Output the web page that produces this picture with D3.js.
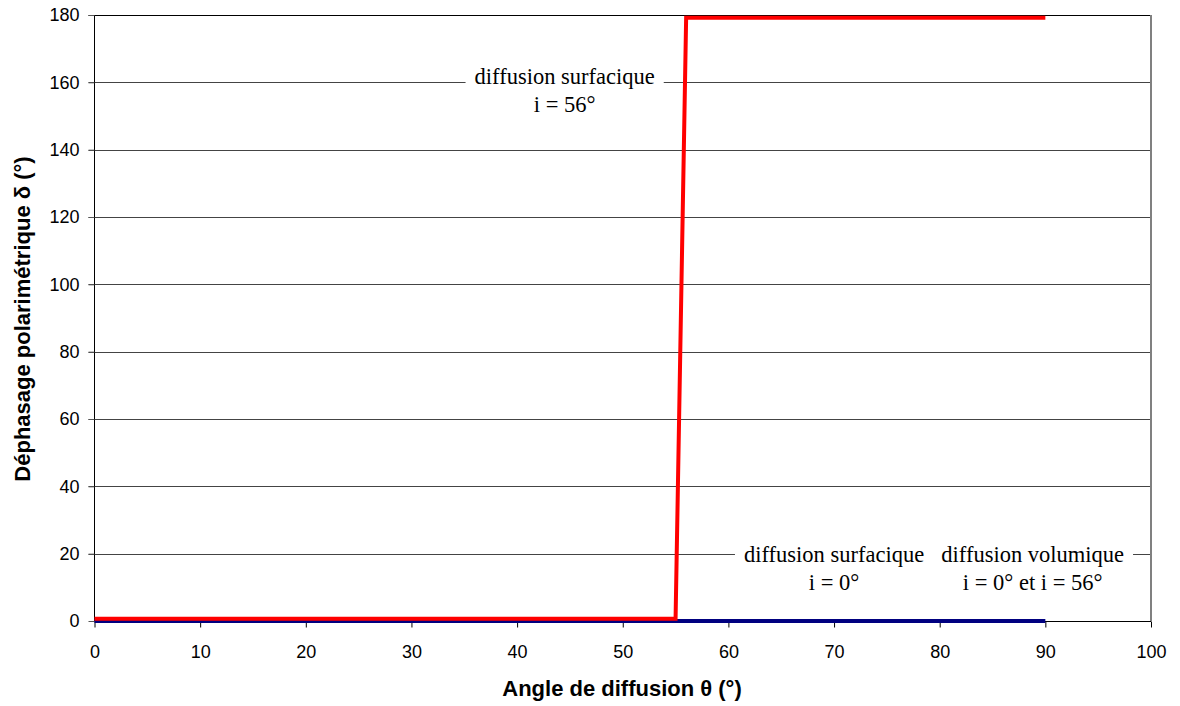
<!DOCTYPE html>
<html>
<head>
<meta charset="utf-8">
<script src="https://cdn.jsdelivr.net/npm/d3@7"></script>
<style>
  html, body { margin: 0; padding: 0; background: #fff; }
  svg { display: block; }
</style>
</head>
<body>
<svg id="chart" width="1180" height="706"></svg>
<script>
// ---- data ----
const xTicks = [0, 10, 20, 30, 40, 50, 60, 70, 80, 90, 100];
const yTicks = [0, 20, 40, 60, 80, 100, 120, 140, 160, 180];
const redX = [0, 55, 56, 90];          // diffusion surfacique i = 56°
const redY = [0.7, 0.7, 179.2, 179.2];
const blueX = [0, 55, 90];             // diffusion surfacique i = 0° / volumique
const blueY = [0, 0, 0];
const labelText = [
  ["diffusion surfacique", "i = 56°"],
  ["diffusion surfacique", "i = 0°"],
  ["diffusion volumique", "i = 0° et i = 56°"]
];
const labelX = [44.5, 70.0, 88.8];
const labelY = [159.5, 17.5, 17.5];
const xTitle = "Angle de diffusion θ (°)";
const yTitle = "Déphasage polarimétrique δ (°)";

// ---- layout ----
const svg = d3.select("#chart");
const L = 94.5, R = 1151, T = 15, B = 621;
const x = d3.scaleLinear().domain([0, 100]).range([L, R]);
const y = d3.scaleLinear().domain([0, 180]).range([B, T]);

// gridlines
svg.append("g").selectAll("line").data(yTicks.filter(d => d > 0)).join("line")
  .attr("x1", L - 6).attr("x2", R)
  .attr("y1", d => Math.round(y(d)) + 0.5).attr("y2", d => Math.round(y(d)) + 0.5)
  .attr("stroke", d => d === 180 ? "#000" : "#444").attr("stroke-width", 1);

// right border
svg.append("line").attr("x1", R).attr("x2", R).attr("y1", T).attr("y2", B)
  .attr("stroke", "#808080").attr("stroke-width", 2);

// axes
const xAxis = d3.axisBottom(x).tickValues(xTicks).tickSize(6).tickPadding(18);
const gx = svg.append("g").attr("transform", `translate(0,${B + 0.5})`).call(xAxis);
gx.select(".domain").attr("stroke", "#000").attr("d", `M${L},0H${R}`);
gx.selectAll(".tick line").attr("stroke", "#000");
gx.selectAll("text").attr("font-family", "Liberation Sans, Arial, sans-serif")
  .attr("font-size", 18).attr("fill", "#000");

const yAxis = d3.axisLeft(y).tickValues(yTicks).tickSize(6).tickPadding(9);
const gy = svg.append("g").attr("transform", `translate(${L},0)`).call(yAxis);
gy.select(".domain").attr("stroke", "#000").attr("d", `M0,${T}V${B}`);
gy.selectAll(".tick line").attr("stroke", "#555");
gy.selectAll("text").attr("font-family", "Liberation Sans, Arial, sans-serif")
  .attr("font-size", 18).attr("fill", "#000");

// labels with white boxes
const lab = svg.append("g");
labelText.forEach((lines, i) => {
  const g = lab.append("g").attr("transform", `translate(${x(labelX[i])},${y(labelY[i])})`);
  const rect = g.append("rect").attr("fill", "#fff");
  const t = g.append("text").attr("text-anchor", "middle")
    .attr("font-family", "Liberation Serif, Times New Roman, serif")
    .attr("font-size", 22.5).attr("fill", "#000");
  lines.forEach((s, k) => t.append("tspan").attr("x", 0).attr("y", k * 27.5).text(s));
  const bb = t.node().getBBox();
  rect.attr("x", bb.x - 9).attr("y", bb.y - 2).attr("width", bb.width + 18).attr("height", bb.height + 4);
});

// series lines
const line = d3.line().x(d => x(d[0])).y(d => y(d[1]));
svg.append("path").datum(blueX.map((v, i) => [v, blueY[i]]))
  .attr("d", line).attr("fill", "none").attr("stroke", "#000080").attr("stroke-width", 4);
svg.append("path").datum(redX.map((v, i) => [v, redY[i]]))
  .attr("d", line).attr("fill", "none").attr("stroke", "#ff0000").attr("stroke-width", 4);

// axis titles
svg.append("text").attr("x", 622).attr("y", 696).attr("text-anchor", "middle")
  .attr("font-family", "Liberation Sans, Arial, sans-serif").attr("font-weight", "bold")
  .attr("font-size", 22).text(xTitle);
svg.append("text").attr("transform", "translate(30,319) rotate(-90)").attr("text-anchor", "middle")
  .attr("font-family", "Liberation Sans, Arial, sans-serif").attr("font-weight", "bold")
  .attr("font-size", 22).text(yTitle);
</script>
</body>
</html>
